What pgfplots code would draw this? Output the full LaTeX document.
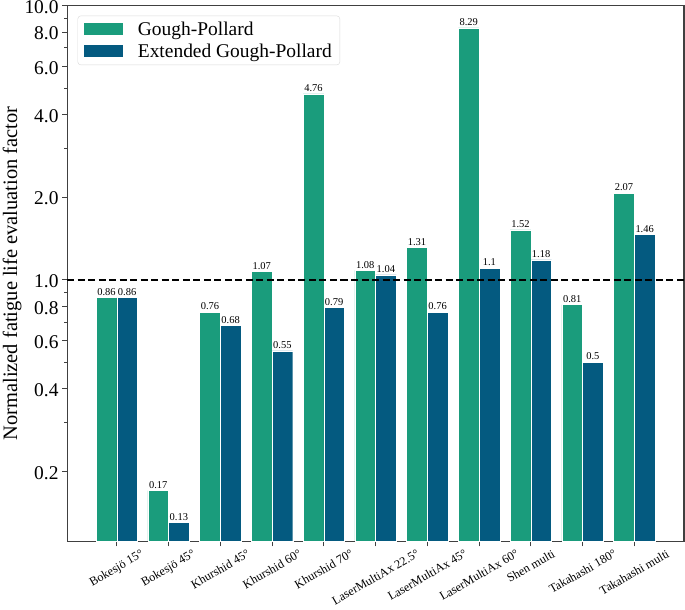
\documentclass[border=0pt]{standalone}
\usepackage{pgfplots}
\usepackage{pgfplotstable}
\usepackage{graphicx}
\pgfplotsset{compat=1.18}
\usepackage{fontspec}
\setmainfont{Liberation Serif}
\definecolor{gpgreen}{HTML}{1A9C7C}
\definecolor{gpblue}{HTML}{045A80}
\definecolor{framegray}{HTML}{404040}

\pgfplotstableread{
x y lab
0 0.86 0.86
1 0.17 0.17
2 0.76 0.76
3 1.07 1.07
4 4.76 4.76
5 1.08 1.08
6 1.31 1.31
7 8.29 8.29
8 1.52 1.52
9 0.81 0.81
10 2.07 2.07
}\gp

\pgfplotstableread{
x y lab
0 0.86 0.86
1 0.13 0.13
2 0.68 0.68
3 0.55 0.55
4 0.79 0.79
5 1.04 1.04
6 0.76 0.76
7 1.10 1.1
8 1.18 1.18
9 0.50 0.5
10 1.46 1.46
}\egp

\newcommand{\rl}[1]{\rotatebox{30}{#1}}

\begin{document}
\begin{tikzpicture}
\useasboundingbox (-67bp,-68.5bp) rectangle (617bp,540.5bp);
\begin{axis}[
  at={(0,0)}, anchor=south west,
  scale only axis,
  width=616bp, height=535bp,
  ymode=log,
  log origin=infty,
  ymin=0.111, ymax=10,
  xmin=-0.96, xmax=10.96,
  ybar,
  bar width=0.4,
  axis line style={framegray, line width=1.1bp},
  tick style={framegray, line width=1bp},
  tick align=outside,
  major tick length=5bp,
  minor tick length=3bp,
  xtick pos=bottom, ytick pos=left,
  xtick={0,...,10},
  xticklabels={\rl{Bokesjö 15°}, \rl{Bokesjö 45°}, \rl{Khurshid 45°}, \rl{Khurshid 60°}, \rl{Khurshid 70°}, \rl{LaserMultiAx 22.5°}, \rl{LaserMultiAx 45°}, \rl{LaserMultiAx 60°}, \rl{Shen multi}, \rl{Takahashi 180°}, \rl{Takahashi multi}},
  x tick label style={anchor=north, font=\fontsize{12.2}{14}\selectfont, inner sep=2.5bp},
  ytick={0.2,0.4,0.6,0.8,1,2,4,6,8,10},
  yticklabels={0.2,0.4,0.6,0.8,1.0,2.0,4.0,6.0,8.0,10.0},
  minor ytick={0.3,0.5,0.7,0.9,3,5,7,9},
  y tick label style={font=\fontsize{19.5}{22}\selectfont, yshift=-1.5bp},
  ylabel={Normalized fatigue life evaluation factor},
  every axis y label/.style={at={(axis description cs:-0.0893,0.5)}, rotate=90, anchor=center, font=\fontsize{20.5}{23}\selectfont},
  legend style={at={(0.017,0.981)}, anchor=north west, draw=black!15, rounded corners=3bp,
    font=\fontsize{19.5}{23}\selectfont, inner xsep=6bp, inner ysep=4bp, row sep=3bp, cells={anchor=west}},
  legend image code/.code={\fill[#1, draw=none, sharp corners] (0bp,-6bp) rectangle (39bp,6bp); \path[draw=none, fill=none] (0bp,0bp) -- (52bp,0bp);},
  nodes near coords={\pgfplotspointmeta},
  point meta=explicit symbolic,
  every node near coord/.append style={font=\fontsize{10.5}{12}\selectfont, inner sep=2bp, text=black},
]
\addplot[fill=gpgreen, draw=white, line width=0.4bp, bar shift=-0.2] table[x=x, y=y, meta=lab]{\gp};
\addlegendentry{Gough-Pollard}
\addplot[fill=gpblue, draw=white, line width=0.4bp, bar shift=0.2] table[x=x, y=y, meta=lab]{\egp};
\addlegendentry{Extended Gough-Pollard}
\addplot[sharp plot, black, line width=1.8bp, dash pattern=on 7bp off 3.5bp, nodes near coords={}, forget plot] coordinates {(-0.96,1) (10.96,1)};
\end{axis}
\end{tikzpicture}
\end{document}
